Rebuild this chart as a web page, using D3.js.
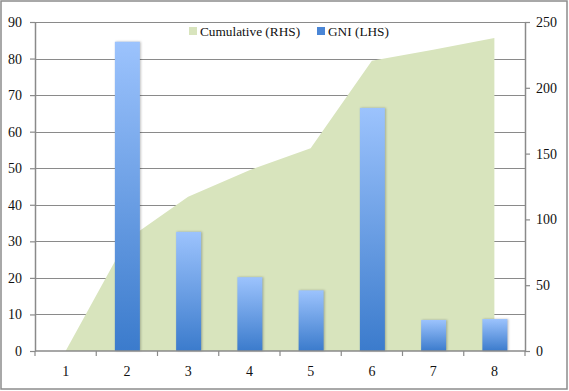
<!DOCTYPE html>
<html><head><meta charset="utf-8">
<script src="https://cdn.jsdelivr.net/npm/d3@7"></script>
<style>body{margin:0;background:#fff}svg{display:block}text{font-family:"Liberation Serif",serif}</style>
</head><body>
<svg id="c" width="569" height="391"></svg>
<script>
const categories = ["1","2","3","4","5","6","7","8"];
const gni = [0, 84.6, 32.6, 20.2, 16.6, 66.5, 8.5, 8.75];
const cumulative = [0, 84.6, 117.2, 137.4, 154.0, 220.5, 229.0, 237.75];
const leftTicks = [0,10,20,30,40,50,60,70,80,90];
const rightTicks = [0,50,100,150,200,250];
const legendLabels = ["Cumulative (RHS)", "GNI (LHS)"];

const svg = d3.select("#c");
const m = {l:35, r:525, t:22, b:351};
const x = d3.scaleBand().domain(categories).range([m.l, m.r]).paddingInner(0).paddingOuter(0);
const yL = d3.scaleLinear().domain([0,90]).range([m.b, m.t]);
const yR = d3.scaleLinear().domain([0,250]).range([m.b, m.t]);
const cx = d => x(d) + x.bandwidth()/2;

const defs = svg.append("defs");
const g = defs.append("linearGradient").attr("id","bg").attr("x1",0).attr("y1",0).attr("x2",0).attr("y2",1);
g.append("stop").attr("offset","0%").attr("stop-color","#9cc3fd");
g.append("stop").attr("offset","100%").attr("stop-color","#3b7bcc");

// border
svg.append("rect").attr("x",1).attr("y",1).attr("width",566).attr("height",388)
  .attr("fill","#fff").attr("stroke","#8c8c8c").attr("stroke-width",1.5);

// gridlines
svg.append("g").selectAll("line").data(leftTicks.filter(d=>d>0)).join("line")
  .attr("x1",m.l).attr("x2",m.r).attr("y1",d=>Math.round(yL(d))+0.5).attr("y2",d=>Math.round(yL(d))+0.5)
  .attr("stroke","#8a8a8a").attr("stroke-width",1.2);

// area
const area = d3.area().x((d,i)=>cx(categories[i])).y0(m.b).y1(d=>yR(d));
svg.append("path").datum(cumulative).attr("d",area).attr("fill","#d8e4bd");

// bars
const bw = 25;
svg.append("g").selectAll("rect").data(gni).join("rect")
  .attr("x",(d,i)=>cx(categories[i]) - bw/2 + 0.5)
  .attr("y",d=>yL(d)).attr("width",bw).attr("height",d=>m.b - yL(d))
  .attr("fill","url(#bg)")
  .style("filter","drop-shadow(1px 0px 1px rgba(0,0,0,0.25))");

// axes
const axStyle = sel => {
  sel.selectAll(".domain").attr("stroke","#8a8a8a").attr("stroke-width",1.5);
  sel.selectAll(".tick line").attr("stroke","#8a8a8a").attr("stroke-width",1.2);
  sel.selectAll("text").attr("fill","#111").style("font-size","14px").style("font-family","Liberation Serif");
};
svg.append("g").attr("transform",`translate(${m.l},0)`)
  .call(d3.axisLeft(yL).tickValues(leftTicks).tickSize(5).tickSizeOuter(0).tickPadding(8))
  .call(axStyle);
svg.append("g").attr("transform",`translate(${m.r},0)`)
  .call(d3.axisRight(yR).tickValues(rightTicks).tickSize(5).tickSizeOuter(0).tickPadding(6))
  .call(axStyle);
const xa = svg.append("g").attr("transform",`translate(0,${m.b})`)
  .call(d3.axisBottom(x).tickSize(0).tickPadding(15))
  .call(axStyle);
xa.selectAll(".domain").attr("d",`M${m.l},0H${m.r}`);
svg.append("g").selectAll("line").data(d3.range(categories.length+1)).join("line")
  .attr("x1",i=>m.l + i*x.bandwidth()).attr("x2",i=>m.l + i*x.bandwidth())
  .attr("y1",m.b).attr("y2",m.b+5).attr("stroke","#8a8a8a").attr("stroke-width",1.2);

// legend
const leg = [{t:legendLabels[0], c:"#d8e4bd", x:189}, {t:legendLabels[1], c:"#4a86d6", x:317}];
const lg = svg.append("g");
leg.forEach(d=>{
  lg.append("rect").attr("x",d.x).attr("y",27).attr("width",8).attr("height",8).attr("fill",d.c);
  lg.append("text").attr("x",d.x+11).attr("y",36).text(d.t).attr("fill","#111").style("font-size","13.3px");
});
</script>
</body></html>
